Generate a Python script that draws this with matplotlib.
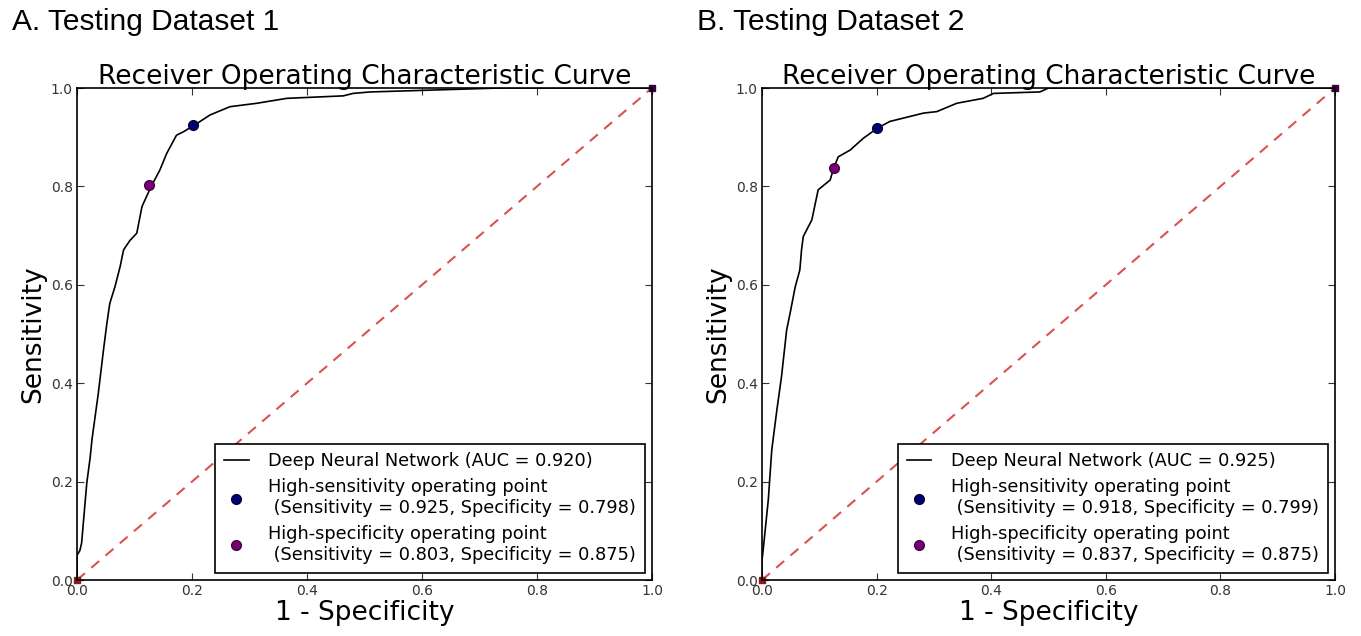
import matplotlib
matplotlib.use("Agg")
import matplotlib.pyplot as plt

# ROC curve points (1 - specificity, sensitivity)
fpr_a = [0.0, 0.0, 0.005, 0.008, 0.017, 0.023, 0.026, 0.037, 0.046, 0.052, 0.057,
         0.066, 0.075, 0.081, 0.092, 0.104, 0.113, 0.129, 0.144, 0.156, 0.173, 0.185,
         0.205, 0.231, 0.266, 0.313, 0.365, 0.463, 0.48, 0.51, 0.736, 1.0]
tpr_a = [0.0, 0.05, 0.06, 0.075, 0.197, 0.25, 0.285, 0.379, 0.467, 0.522, 0.562,
         0.596, 0.637, 0.671, 0.69, 0.705, 0.759, 0.80, 0.833, 0.867, 0.904, 0.911,
         0.925, 0.945, 0.962, 0.969, 0.979, 0.984, 0.989, 0.992, 1.0, 1.0]

fpr_b = [0.0, 0.0, 0.002, 0.011, 0.017, 0.026, 0.034, 0.043, 0.049, 0.058, 0.066,
         0.069, 0.072, 0.087, 0.098, 0.119, 0.125, 0.133, 0.154, 0.177, 0.201,
         0.223, 0.282, 0.305, 0.34, 0.386, 0.404, 0.485, 0.50, 1.0]
tpr_b = [0.0, 0.04, 0.061, 0.163, 0.264, 0.346, 0.413, 0.508, 0.542, 0.596, 0.63,
         0.671, 0.698, 0.732, 0.793, 0.813, 0.837, 0.86, 0.874, 0.898, 0.918,
         0.932, 0.949, 0.952, 0.969, 0.979, 0.989, 0.992, 1.0, 1.0]

panel_titles = ['A. Testing Dataset 1', 'B. Testing Dataset 2']
auc = [0.920, 0.925]
# operating points: (sensitivity, specificity)
hi_sens = [(0.925, 0.798), (0.918, 0.799)]
hi_spec = [(0.803, 0.875), (0.837, 0.875)]

fig = plt.figure(figsize=(13.61, 6.36), dpi=100)
axes = [fig.add_axes([77/1361, 56/636, 575/1361, 492/636]),
        fig.add_axes([762/1361, 56/636, 573/1361, 492/636])]
curves = [(fpr_a, tpr_a), (fpr_b, tpr_b)]

for i, ax in enumerate(axes):
    fpr, tpr = curves[i]
    ax.plot([0, 1], [0, 1], linestyle='--', color='#d9534f', lw=1.5, dashes=(5, 4))
    ax.plot(fpr, tpr, color='black', lw=1.2,
            label=f'Deep Neural Network (AUC = {auc[i]:.3f})')
    se, sp = hi_sens[i]
    ax.plot(1 - sp, se, 'o', color='#000070', ms=7, mec='#000040',
            label=f'High-sensitivity operating point\n (Sensitivity = {se:.3f}, Specificity = {sp:.3f})')
    se, sp = hi_spec[i]
    ax.plot(1 - sp, se, 'o', color='#770077', ms=7, mec='#440044',
            label=f'High-specificity operating point\n (Sensitivity = {se:.3f}, Specificity = {sp:.3f})')
    # threshold end markers
    ax.plot([0], [0], 's', color='#8b1a1a', ms=4, clip_on=False)
    ax.plot([1], [1], 's', color='#3a0040', ms=4, clip_on=False)

    ax.set_xlim(0, 1)
    ax.set_ylim(0, 1)
    ax.set_xticks([0, 0.2, 0.4, 0.6, 0.8, 1.0])
    ax.set_yticks([0, 0.2, 0.4, 0.6, 0.8, 1.0])
    ax.tick_params(direction='in', top=True, right=True, labelsize=10,
                   length=5, width=0.8, colors='#333333', pad=3)
    for s in ax.spines.values():
        s.set_linewidth(1.2)
        s.set_color('black')
    ax.set_title('Receiver Operating Characteristic Curve', fontsize=19, pad=3)
    ax.set_xlabel('1 - Specificity', fontsize=19, labelpad=1)
    ax.set_ylabel('Sensitivity', fontsize=19, labelpad=3)
    leg = ax.legend(loc='lower right', fontsize=12.8, numpoints=1, frameon=True,
                    fancybox=False, edgecolor='black', framealpha=1,
                    handlelength=1.4, borderaxespad=0.4, labelspacing=0.45,
                    handletextpad=1.1, borderpad=0.5)
    leg.get_frame().set_linewidth(1.2)

fig.text(12/1361, 1 - 22/636, panel_titles[0], fontsize=21.5,
         family='Liberation Sans', va='center', ha='left')
fig.text(697/1361, 1 - 22/636, panel_titles[1], fontsize=21.5,
         family='Liberation Sans', va='center', ha='left')

fig.savefig('out.png', dpi=100)
